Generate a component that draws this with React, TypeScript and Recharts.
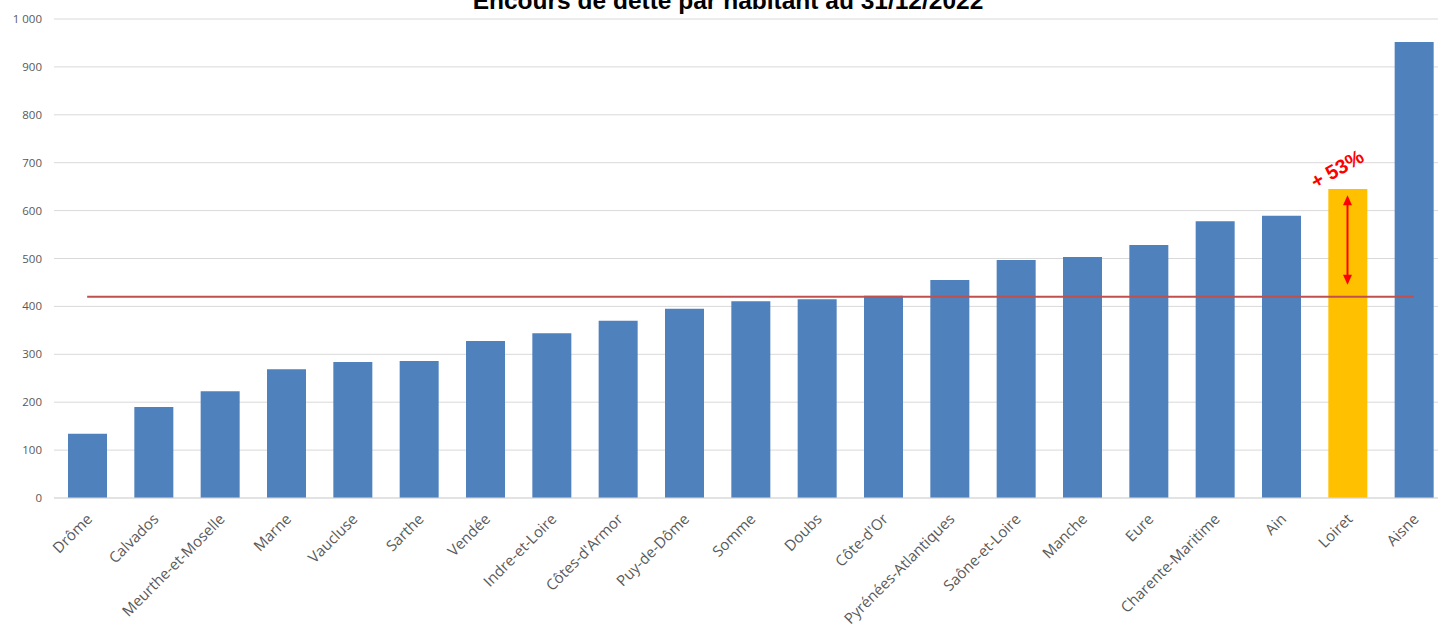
import React from "react";
import {
  ComposedChart,
  Bar,
  Line,
  XAxis,
  YAxis,
  CartesianGrid,
  Cell,
  ReferenceLine,
  ReferenceDot,
} from "recharts";

const departments = [
  "Drôme", "Calvados", "Meurthe-et-Moselle", "Marne", "Vaucluse", "Sarthe", "Vendée",
  "Indre-et-Loire", "Côtes-d'Armor", "Puy-de-Dôme", "Somme", "Doubs", "Côte-d'Or",
  "Pyrénées-Atlantiques", "Saône-et-Loire", "Manche", "Eure", "Charente-Maritime",
  "Ain", "Loiret", "Aisne",
];
const debtPerInhabitant = [
  134, 190, 223, 269, 284, 286, 328, 344, 370, 395, 411, 415, 422, 455, 497, 503, 528, 578, 589, 645, 952,
];
const averageValue = 420;
const highlighted = "Loiret";
const arrowTop = 632;
const arrowBottom = 445;
const annotationText = "+ 53%";
const yTicks = [0, 100, 200, 300, 400, 500, 600, 700, 800, 900, 1000];
const title = "Encours de dette par habitant au 31/12/2022";

const data = departments.map((name, i) => ({
  name,
  value: debtPerInhabitant[i],
  avg: averageValue,
}));

const XTick = (props: any) => {
  const { x, y, payload } = props;
  const ax = x + 6;
  const ay = y + 14;
  return (
    <text
      x={ax}
      y={ay}
      textAnchor="end"
      transform={`rotate(-45, ${ax}, ${ay})`}
      fontSize={15}
      fill="#595959"
      fontFamily="'Open Sans', 'DejaVu Sans', sans-serif"
    >
      {payload.value}
    </text>
  );
};

const ArrowShape = (props: any) => {
  const { x1, y1, x2, y2 } = props;
  const top = Math.min(y1, y2);
  const bot = Math.max(y1, y2);
  const x = x1;
  return (
    <g>
      <line x1={x} y1={top + 6} x2={x} y2={bot - 6} stroke="#FF0000" strokeWidth={2} />
      <polygon points={`${x},${top} ${x - 4.5},${top + 10} ${x + 4.5},${top + 10}`} fill="#FF0000" />
      <polygon points={`${x},${bot} ${x - 4.5},${bot - 10} ${x + 4.5},${bot - 10}`} fill="#FF0000" />
    </g>
  );
};

const AnnotationShape = (props: any) => {
  const { cx, cy } = props;
  const tx = cx - 7;
  const ty = cy - 14;
  return (
    <text
      x={tx}
      y={ty}
      textAnchor="middle"
      transform={`rotate(-30, ${tx}, ${ty})`}
      fontSize={20}
      fontWeight="bold"
      fill="#FF0000"
      fontFamily="'Liberation Sans', Arial, sans-serif"
    >
      {annotationText}
    </text>
  );
};

export default function App() {
  return (
    <div
      style={{
        position: "fixed",
        left: 0,
        top: 0,
        width: 1438,
        height: 625,
        overflow: "hidden",
        background: "#FFFFFF",
      }}
    >
      <ComposedChart
        width={1460}
        height={625}
        data={data}
        margin={{ top: 19, right: 13, bottom: 0, left: 0 }}
        style={{ position: "absolute", left: 0, top: 0 }}
      >
        <CartesianGrid vertical={false} stroke="#D9D9D9" />
        <XAxis
          dataKey="name"
          interval={0}
          height={127}
          tick={<XTick />}
          tickLine={false}
          axisLine={{ stroke: "#D9D9D9" }}
        />
        <YAxis
          domain={[0, 1000]}
          ticks={yTicks}
          width={54}
          axisLine={false}
          tickLine={false}
          tickMargin={6}
          tickFormatter={(v: number) => (v >= 1000 ? "1 000" : String(v))}
          tick={{ fontSize: 11.5, fill: "#595959", fontFamily: "'Open Sans', 'DejaVu Sans', sans-serif" }}
        />
        <Bar dataKey="value" barSize={39} isAnimationActive={false}>
          {data.map((d) => (
            <Cell key={d.name} fill={d.name === highlighted ? "#FFC000" : "#4F81BD"} />
          ))}
        </Bar>
        <Line
          dataKey="avg"
          stroke="#C0504D"
          strokeWidth={2}
          dot={false}
          activeDot={false}
          isAnimationActive={false}
        />
        <ReferenceLine
          segment={[
            { x: highlighted, y: arrowTop },
            { x: highlighted, y: arrowBottom },
          ]}
          shape={<ArrowShape />}
        />
        <ReferenceDot
          x={highlighted}
          y={debtPerInhabitant[departments.indexOf(highlighted)]}
          r={0}
          shape={<AnnotationShape />}
        />
      </ComposedChart>
      <div
        style={{
          position: "absolute",
          left: 0,
          top: -14,
          width: 1438,
          textAlign: "center",
          fontFamily: "'Liberation Sans', Arial, sans-serif",
          fontWeight: "bold",
          fontSize: 24.5,
          lineHeight: "30px",
          color: "#000000",
          paddingLeft: 18,
          boxSizing: "border-box",
          pointerEvents: "none",
        }}
      >
        {title}
      </div>
    </div>
  );
}
